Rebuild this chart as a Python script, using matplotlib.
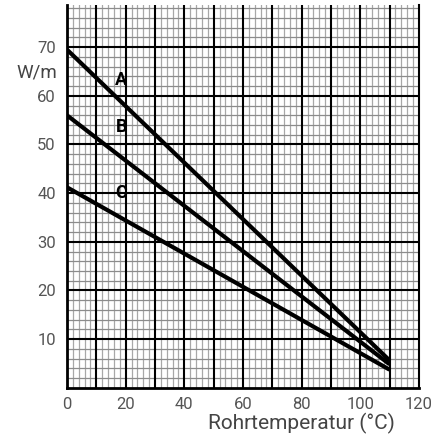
import matplotlib.pyplot as plt

plt.rcParams['font.family'] = ['Roboto', 'DejaVu Sans']

# pipe temperature (degC) and heat output (W/m) at start and end of each curve
temp = [0, 110]
curve_a = [69.5, 5.6]
curve_b = [56.0, 4.8]
curve_c = [41.2, 3.7]
names = ["A", "B", "C"]
label_x = 18.5
label_y = [63.3, 53.5, 40.0]

y_ticks = [10, 20, 30, 40, 50, 60, 70]
x_ticks = [0, 20, 40, 60, 80, 100, 120]

fig = plt.figure(figsize=(4.41, 4.37), dpi=100)
ax = fig.add_axes([0.152, 0.1128, 0.798, 0.876])

ax.set_xlim(0, 120)
ax.set_ylim(0, 78.7)

# graph paper: grey every 2 units, black every 10
for v in range(2, 120, 2):
    if v % 10:
        ax.axvline(v, color="#a8a8a8", linewidth=0.9, zorder=1)
for h in range(2, 79, 2):
    if h % 10:
        ax.axhline(h, color="#8c8c8c", linewidth=0.9, zorder=1)
for v in range(10, 120, 10):
    ax.axvline(v, color="black", linewidth=1.5, zorder=2)
for h in range(10, 79, 10):
    ax.axhline(h, color="black", linewidth=1.5, zorder=2)

ax.set_xticks(x_ticks, [str(t) for t in x_ticks])
ax.set_yticks(y_ticks, [str(t) for t in y_ticks])

ax.tick_params(which="both", length=0)
ax.tick_params(axis="x", pad=7, labelsize=12, labelcolor="#555555")
ax.tick_params(axis="y", pad=8, labelsize=12, labelcolor="#555555")

ax.spines["top"].set_visible(False)
ax.spines["left"].set_linewidth(2)
ax.spines["bottom"].set_linewidth(2)
ax.spines["right"].set_linewidth(1.5)
for s in ax.spines.values():
    s.set_zorder(3)

for vals in [curve_a, curve_b, curve_c]:
    ax.plot(temp, vals, color="black", linewidth=3, solid_capstyle="butt", zorder=4)

for n, y in zip(names, label_y):
    ax.text(label_x, y, n, fontsize=13, fontweight="bold", ha="center", va="center", zorder=5)

fig.text(0.13, 0.835, "W/m", fontsize=13.5, color="#444444", ha="right", va="center")
fig.text(0.684, 0.031, "Rohrtemperatur (°C)", fontsize=15, color="#444444",
         ha="center", va="center")

fig.savefig("out.png", dpi=100)
